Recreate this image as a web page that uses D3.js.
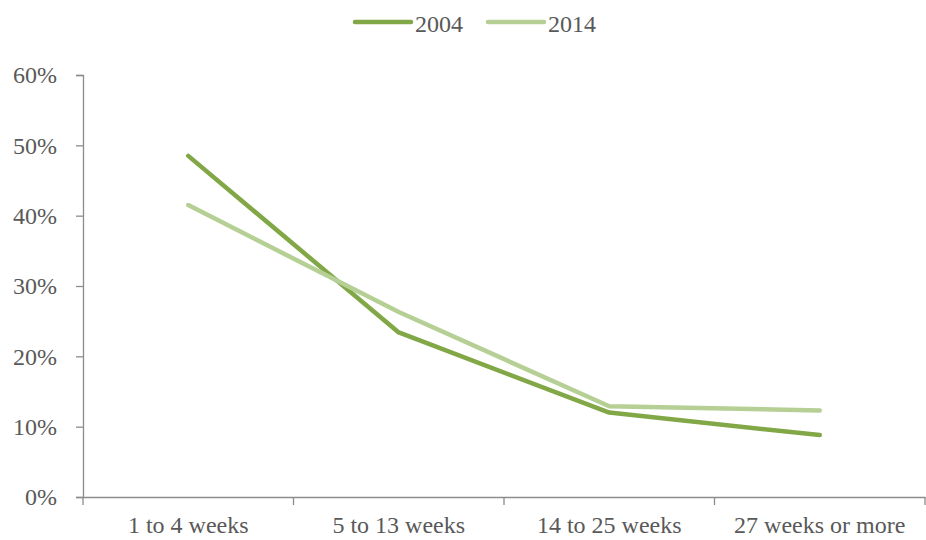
<!DOCTYPE html>
<html>
<head>
<meta charset="utf-8">
<script src="https://cdn.jsdelivr.net/npm/d3@7"></script>
<style>
  body { margin: 0; background: #fff; }
  svg text { font-family: "Liberation Serif", "Times New Roman", serif; fill: #595959; }
</style>
</head>
<body>
<svg id="chart" width="926" height="540"></svg>
<script>
const categories = ["1 to 4 weeks", "5 to 13 weeks", "14 to 25 weeks", "27 weeks or more"];
const values2004 = [0.485, 0.234, 0.120, 0.088];
const values2014 = [0.415, 0.263, 0.129, 0.123];
const yTicks = [0, 0.1, 0.2, 0.3, 0.4, 0.5, 0.6];

const series = [
    { name: "2004", values: values2004, color: "#82a746" },
    { name: "2014", values: values2014, color: "#b5cf95" }
];

const width = 926, height = 540;
const margin = { top: 75, right: 1, bottom: 43, left: 83 };
const innerWidth = width - margin.left - margin.right;
const innerHeight = height - margin.top - margin.bottom;
const axisColor = "#8c8c8c";

const svg = d3.select("#chart");
const g = svg.append("g").attr("transform", `translate(${margin.left},${margin.top})`);

const x = d3.scaleBand().domain(categories).range([0, innerWidth]);
const y = d3.scaleLinear().domain([0, 0.6]).range([innerHeight, 0]);

// Y axis
const yAxis = g.append("g")
    .call(d3.axisLeft(y).tickValues(yTicks).tickFormat(d3.format(".0%")).tickSize(7).tickPadding(19));
yAxis.select(".domain").attr("stroke", axisColor).attr("stroke-width", 1.3);
yAxis.selectAll(".tick line").attr("stroke", axisColor).attr("stroke-width", 1.3);
yAxis.selectAll(".tick text")
    .attr("font-size", 24)
    .attr("font-family", "Liberation Serif")
    .attr("fill", "#595959");

// X axis: labels centered in bands, ticks at band edges
const xAxis = g.append("g")
    .attr("transform", `translate(0,${innerHeight})`)
    .call(d3.axisBottom(x).tickSize(0).tickPadding(19));
xAxis.select(".domain").attr("stroke", axisColor).attr("stroke-width", 1.3);
xAxis.selectAll(".tick text")
    .attr("font-size", 24)
    .attr("font-family", "Liberation Serif")
    .attr("fill", "#595959");

const edges = categories.map(c => x(c)).concat([x.range()[1]]);
xAxis.selectAll(".edge")
    .data(edges)
    .enter()
    .append("line")
    .attr("class", "edge")
    .attr("x1", d => d)
    .attr("x2", d => d)
    .attr("y1", 0)
    .attr("y2", 8)
    .attr("stroke", axisColor)
    .attr("stroke-width", 1.3);

// Lines
const line = d3.line()
    .x((d, i) => x(categories[i]) + x.bandwidth() / 2)
    .y(d => y(d));

series.forEach(s => {
    g.append("path")
        .datum(s.values)
        .attr("fill", "none")
        .attr("stroke", s.color)
        .attr("stroke-width", 4.5)
        .attr("stroke-linecap", "round")
        .attr("stroke-linejoin", "round")
        .attr("d", line);
});

// Legend
const legend = svg.append("g").attr("transform", "translate(355,22)");
const legendItems = legend.selectAll(".item")
    .data(series)
    .enter()
    .append("g")
    .attr("class", "item")
    .attr("transform", (d, i) => `translate(${i * 133},0)`);
legendItems.append("line")
    .attr("x1", 0).attr("x2", 56)
    .attr("y1", 0).attr("y2", 0)
    .attr("stroke", d => d.color)
    .attr("stroke-width", 4.5)
    .attr("stroke-linecap", "round");
legendItems.append("text")
    .attr("x", 60)
    .attr("y", 10)
    .attr("font-size", 24)
    .text(d => d.name);
</script>
</body>
</html>
